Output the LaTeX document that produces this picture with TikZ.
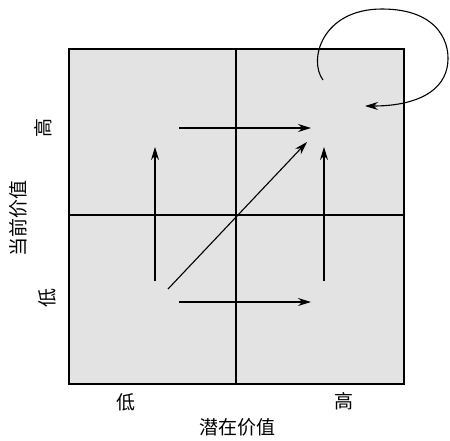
\documentclass[tikz,border=0pt]{standalone}
\usepackage{fontspec}
\newfontfamily\cjk{Noto Sans CJK SC}
\usetikzlibrary{arrows.meta}
\definecolor{cellgray}{HTML}{E3E3E3}
\tikzset{
  lbl/.style={font=\cjk\fontsize{19}{19}\selectfont, inner sep=0pt},
  grid/.style={line width=1.8pt},
  flow/.style={line width=1.1pt, -{Stealth[length=13pt,width=8pt]}},
}
\begin{document}
\begin{tikzpicture}[x=1pt,y=-1pt]
\useasboundingbox (0,0) rectangle (450,440);
% box
\fill[cellgray] (69,49) rectangle (404,384);
\draw[grid] (69,49) rectangle (404,384);
\draw[grid] (236,49) -- (236,384);
\draw[grid] (69,215) -- (404,215);
% coordinates
\coordinate (ts) at (179,128); \coordinate (te) at (311,128);
\coordinate (bs) at (179,302); \coordinate (be) at (311,302);
\coordinate (ls) at (155,281); \coordinate (le) at (155,147);
\coordinate (rs) at (324,281); \coordinate (re) at (324,147);
\coordinate (ds) at (168,289); \coordinate (de) at (307,142);
\coordinate (cs) at (323,80); \coordinate (ce) at (365,106);
\draw[flow] (ts) -- (te);
\draw[flow] (bs) -- (be);
\draw[flow] (ls) -- (le);
\draw[flow] (rs) -- (re);
\draw[flow] (ds) -- (de);
\draw[flow] (cs) .. controls (308,60) and (322,9) .. (382,9)
  .. controls (440,9) and (452,45) .. (447,68)
  .. controls (441,95) and (410,106) .. (ce);
% labels
\node[lbl] (xlow) at (126,402) {低};
\node[lbl] (xhigh) at (344,401) {高};
\node[lbl] (xtitle) at (237,427) {潜在价值};
\node[lbl, rotate=90] (ylow) at (47,298) {低};
\node[lbl, rotate=90] (yhigh) at (43,128) {高};
\node[lbl, rotate=90] (ytitle) at (18,218) {当前价值};
\end{tikzpicture}
\end{document}
